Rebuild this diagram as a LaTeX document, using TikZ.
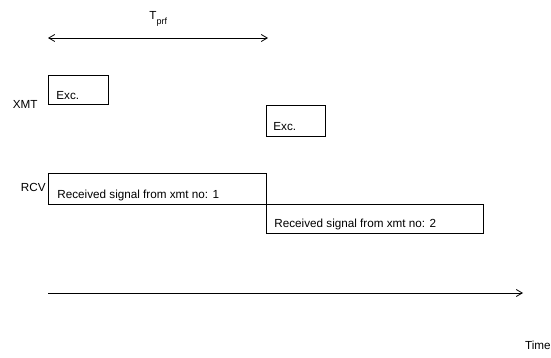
\documentclass[tikz,border=0pt]{standalone}
\usepackage{fontspec}
\setmainfont{Liberation Sans}
\usetikzlibrary{calc, positioning, arrows.meta}

\begin{document}
\begin{tikzpicture}[x=1pt, y=-1pt, line width=0.8pt,
    >={Straight Barb[length=6pt,width=7pt]},
    every node/.style={font=\fontsize{11.7}{14}\selectfont},
    slot/.style={draw, anchor=north west, inner sep=0pt},
    tag/.style={anchor=base west, inner sep=0pt}]
    \useasboundingbox (0,0) rectangle (551,358);
    % Period
    \coordinate (p0) at (48,38);
    \coordinate (p1) at (268,38);
    \draw[<->] (p0) -- (p1);
    \node[anchor=base west, inner sep=0pt] (Tprf) at (149,20) {T\raisebox{-5pt}{\fontsize{9}{10}\selectfont prf}};
    
    % Transmitter
    \node[anchor=base east, inner sep=0pt] (XMT) at (38,109) {XMT};
    \node[slot, minimum width=60, minimum height=29] (E1) at (48,75) {};
    \node[tag] (E1t) at ($(E1.south west)+(8,-5)$) {Exc.};
    \node[slot, minimum width=59, minimum height=31] (E2) at (266,105) {};
    \node[tag] (E2t) at ($(E2.south west)+(7,-6)$) {Exc.};
    
    % Receiver
    \node[anchor=base east, inner sep=0pt] (RCV) at (46,191) {RCV};
    \node[slot, minimum width=218, minimum height=31] (R1) at (48,173) {};
    \node[tag] (R1t) at ($(R1.south west)+(9,-6)$) {Received signal from xmt no: 1};
    \node[slot, minimum width=217, minimum height=29] (R2) at (266,204) {};
    \node[tag] (R2t) at ($(R2.south west)+(8,-6)$) {Received signal from xmt no: 2};
    
    % Time axis
    \coordinate (t0) at (48,293);
    \coordinate (t1) at (523,293);
    \draw[->] (t0) -- (t1);
    \node[anchor=base east, inner sep=0pt] (Time) at (551,349) {Time};
\end{tikzpicture}
\end{document}
